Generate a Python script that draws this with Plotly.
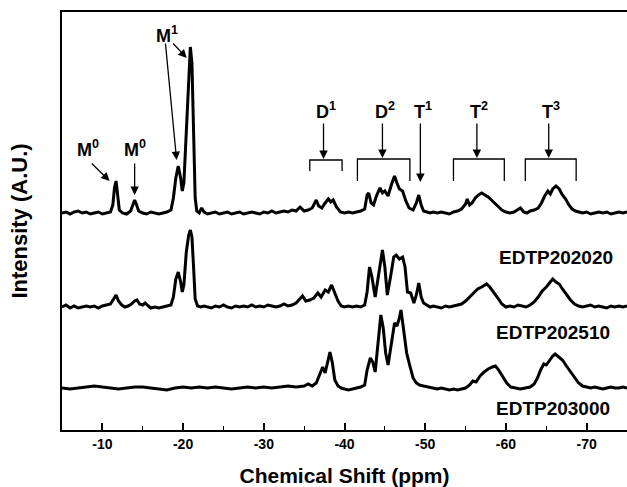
import plotly.graph_objects as go

# ---------------- data (ppm, intensity in arbitrary units above baseline) ----------------
ppm_top = [-5.0,-5.5,-6.0,-6.5,-7.0,-7.5,-8.0,-8.5,-9.0,-9.5,-10.0,-10.5,-11.0,-11.3,-11.5,-11.7,-11.9,-12.1,-12.5,-13.0,-13.5,-13.8,-14.0,-14.2,-14.5,-15.0,-15.5,-16.0,-16.5,-17.0,-17.5,-18.0,-18.5,-18.8,-19.1,-19.4,-19.7,-19.9,-20.1,-20.4,-20.7,-20.9,-21.1,-21.3,-21.5,-21.7,-22.0,-22.3,-22.6,-23.0,-23.5,-24.0,-24.5,-25.0,-25.5,-26.0,-26.5,-27.0,-27.5,-28.0,-28.5,-29.0,-29.5,-30.0,-30.5,-31.0,-31.5,-32.0,-32.5,-33.0,-33.5,-34.0,-34.5,-35.0,-35.5,-36.0,-36.5,-36.8,-37.2,-37.6,-38.0,-38.3,-38.6,-39.0,-39.5,-40.0,-40.5,-41.0,-41.5,-42.0,-42.5,-42.8,-43.0,-43.3,-43.6,-44.0,-44.4,-44.7,-45.0,-45.4,-45.8,-46.2,-46.5,-46.8,-47.2,-47.6,-48.0,-48.5,-48.9,-49.2,-49.5,-49.8,-50.2,-50.6,-51.0,-51.5,-52.0,-52.5,-53.0,-53.5,-54.0,-54.5,-55.0,-55.2,-55.5,-55.8,-56.2,-56.6,-57.0,-57.4,-57.8,-58.2,-58.6,-59.0,-59.5,-60.0,-60.5,-61.0,-61.5,-61.8,-62.2,-62.6,-63.0,-63.5,-64.0,-64.4,-64.8,-65.2,-65.5,-65.8,-66.2,-66.6,-67.0,-67.4,-67.8,-68.2,-68.6,-69.0,-69.5,-70.0,-70.5,-71.0,-71.5,-72.0,-72.5,-73.0,-73.5,-74.0,-74.5,-75.0]
int_top = [0,1,-1,1,2,0,1,-1,0,1,-1,0,1,8,25,32,20,3,0,-1,2,9,13,9,2,0,-1,1,0,-1,0,1,3,15,35,47,35,22,30,80,140,166,150,80,15,2,0,5,1,-1,0,1,-1,0,1,-1,0,1,-1,0,1,0,-1,1,0,2,0,1,2,1,3,2,6,2,3,5,13,7,5,10,14,11,13,6,1,0,1,0,1,2,4,18,20,10,8,18,25,20,22,17,28,37,30,24,22,12,5,3,10,18,8,2,1,0,1,0,1,0,-1,1,2,4,9,14,8,10,15,18,20,18,16,13,10,6,3,1,0,1,3,5,1,0,2,3,5,10,17,22,19,24,27,24,18,14,8,4,2,1,0,1,-1,0,1,0,1,-1,0,1,0,1]

ppm_mid = [-5.0,-5.5,-6.0,-6.5,-7.0,-7.5,-8.0,-8.5,-9.0,-9.5,-10.0,-10.5,-11.0,-11.4,-11.7,-12.0,-12.4,-12.8,-13.2,-13.6,-14.0,-14.3,-14.6,-15.0,-15.3,-15.7,-16.0,-16.5,-17.0,-17.5,-18.0,-18.5,-18.8,-19.1,-19.4,-19.7,-19.9,-20.1,-20.4,-20.7,-20.9,-21.1,-21.3,-21.5,-21.8,-22.2,-22.6,-23.0,-23.5,-24.0,-24.5,-25.0,-25.5,-26.0,-26.5,-27.0,-27.5,-28.0,-28.5,-29.0,-29.5,-30.0,-30.5,-31.0,-31.5,-32.0,-32.5,-33.0,-33.5,-34.0,-34.5,-34.8,-35.2,-35.7,-36.2,-36.7,-37.1,-37.6,-38.0,-38.4,-38.8,-39.2,-39.6,-40.0,-40.5,-41.0,-41.5,-42.0,-42.5,-42.8,-43.1,-43.4,-43.8,-44.2,-44.7,-45.0,-45.3,-45.7,-46.1,-46.4,-46.8,-47.2,-47.5,-47.8,-48.2,-48.6,-48.9,-49.2,-49.5,-49.8,-50.2,-50.6,-51.0,-51.5,-52.0,-52.5,-53.0,-53.5,-54.0,-54.5,-55.0,-55.5,-56.0,-56.5,-57.0,-57.6,-58.0,-58.5,-59.0,-59.5,-60.0,-60.5,-61.0,-61.5,-62.0,-62.5,-63.0,-63.5,-64.0,-64.5,-65.0,-65.4,-65.8,-66.2,-66.6,-67.0,-67.5,-68.0,-68.5,-69.0,-69.5,-70.0,-70.5,-71.0,-71.5,-72.0,-72.5,-73.0,-73.5,-74.0,-74.5,-75.0]
int_mid = [0,2,-1,1,-1,0,1,0,1,-1,1,2,3,8,12,6,2,0,1,3,6,7,3,2,4,1,-1,0,-1,0,1,2,10,28,35,25,15,22,55,72,77,70,40,8,1,0,1,0,-1,1,0,2,0,-1,1,0,1,0,2,0,1,0,2,1,0,1,3,1,2,4,8,11,6,7,9,14,10,17,15,22,14,6,1,0,1,0,1,0,2,15,40,30,10,30,57,40,12,30,50,52,48,50,40,15,14,4,12,24,10,4,2,0,1,0,-1,1,0,1,2,3,6,10,15,18,20,23,20,15,9,3,0,1,0,2,1,0,2,5,10,16,20,24,28,25,23,18,12,7,3,1,0,1,2,0,1,0,-1,1,0,1,0,1]

ppm_bot = [-5.0,-6.0,-7.0,-8.0,-9.0,-10.0,-11.0,-12.0,-13.0,-14.0,-15.0,-16.0,-17.0,-18.0,-19.0,-20.0,-21.0,-22.0,-23.0,-24.0,-25.0,-26.0,-27.0,-28.0,-29.0,-30.0,-31.0,-32.0,-33.0,-34.0,-35.0,-35.5,-36.0,-36.5,-37.0,-37.3,-37.6,-37.9,-38.2,-38.5,-38.8,-39.2,-39.6,-40.0,-40.5,-41.0,-41.5,-42.0,-42.5,-42.8,-43.2,-43.5,-43.8,-44.1,-44.5,-44.8,-45.1,-45.4,-45.8,-46.2,-46.5,-46.8,-47.0,-47.3,-47.7,-48.1,-48.5,-48.9,-49.3,-49.8,-50.3,-51.0,-51.5,-52.0,-52.5,-53.0,-53.5,-54.0,-54.5,-55.0,-55.5,-55.9,-56.3,-56.8,-57.3,-57.8,-58.3,-58.7,-59.1,-59.6,-60.1,-60.6,-61.2,-61.8,-62.4,-63.0,-63.5,-63.9,-64.3,-64.7,-65.0,-65.4,-65.8,-66.1,-66.5,-67.0,-67.5,-68.0,-68.5,-69.0,-69.5,-70.0,-70.5,-71.0,-71.5,-72.0,-72.5,-73.0,-73.5,-74.0,-74.5,-75.0]
int_bot = [0,-1,0,1,2,1,0,-1,0,1,1,0,-1,-2,0,1,0,1,0,1,0,-1,0,1,0,1,0,1,2,1,2,4,2,5,15,21,15,25,36,25,8,2,0,-1,-2,-1,0,1,3,18,30,26,16,40,73,60,35,23,45,65,62,70,78,60,35,22,10,5,3,2,1,0,-1,0,-1,-2,-1,-2,-1,0,3,7,6,12,16,19,21,22,18,11,5,1,0,-1,0,1,4,10,18,24,23,28,32,34,31,28,22,16,10,5,2,1,0,1,0,-1,0,1,0,0,1,0]

sample_names = ["EDTP202020", "EDTP202510", "EDTP203000"]
baselines = [217, 123, 42]

tick_vals = [-10, -20, -30, -40, -50, -60, -70]
tick_text = ["-10", "-20", "-30", "-40", "-50", "-60", "-70"]

# peak-group brackets: label, left ppm, right ppm, arrow ppm
bracket_labels = ["D<sup>1</sup>", "D<sup>2</sup>", "T<sup>2</sup>", "T<sup>3</sup>"]
bracket_left = [-35.7, -41.6, -53.5, -62.4]
bracket_right = [-39.7, -48.1, -59.8, -68.7]
bracket_arrow = [-37.4, -44.7, -56.4, -65.3]

FONT = "Arial, Liberation Sans, sans-serif"

fig = go.Figure()
for xs, ys, base in zip([ppm_top, ppm_mid, ppm_bot], [int_top, int_mid, int_bot], baselines):
    fig.add_trace(go.Scatter(x=xs, y=[v + base for v in ys], mode="lines",
                             line=dict(color="black", width=3), showlegend=False,
                             hoverinfo="skip"))

ann = []
# sample labels (placed below each spectrum)
label_y = [173, 98, 22]
label_x = [-66.2, -65.8, -65.8]
for name, xx, yy in zip(sample_names, label_x, label_y):
    ann.append(dict(x=xx, y=yy, text="<b>%s</b>" % name, showarrow=False,
                    font=dict(size=19, family=FONT, color="black")))

lab_font = dict(size=18, family=FONT, color="black")

def arrow(x0, y0, x1, y1):
    ann.append(dict(x=x1, y=y1, ax=x0, ay=y0, xref="x", yref="y", axref="x", ayref="y",
                    text="", showarrow=True, arrowhead=2, arrowsize=1.3, arrowwidth=1.3,
                    arrowcolor="black", standoff=0, startstandoff=0))

def label(x, y, t):
    ann.append(dict(x=x, y=y, text="<b>%s</b>" % t, showarrow=False, font=lab_font))

# M0 (left)
label(-8.2, 282, "M<sup>0</sup>")
arrow(-8.5, 268, -10.9, 249)
# M0 (second)
label(-14.0, 282, "M<sup>0</sup>")
arrow(-14.0, 268, -14.0, 235)
# M1
label(-18.0, 396, "M<sup>1</sup>")
arrow(-17.8, 388, -19.2, 270)
arrow(-18.6, 388, -20.45, 372)
# T1
label(-49.7, 320, "T<sup>1</sup>")
arrow(-49.4, 308, -49.4, 248)

shapes = []
for lab, xl, xr, xa in zip(bracket_labels, bracket_left, bracket_right, bracket_arrow):
    if lab.startswith("D<sup>1"):
        ytop, ybot = 270, 259
    else:
        ytop, ybot = 271, 249
    label(xa - 0.3, 320, lab)
    arrow(xa, 308, xa, ytop + 1)
    shapes.append(dict(type="path", xref="x", yref="y",
                       path="M %f,%f L %f,%f L %f,%f L %f,%f" % (xl, ybot, xl, ytop, xr, ytop, xr, ybot),
                       line=dict(color="black", width=1.3)))

fig.update_layout(
    width=627, height=487,
    margin=dict(l=62, r=0, t=12, b=57),
    paper_bgcolor="white", plot_bgcolor="white",
    annotations=ann, shapes=shapes,
    font=dict(family=FONT, color="black"),
    hovermode=False,
    xaxis=dict(range=[-5, -75], tickvals=tick_vals, ticktext=tick_text,
               ticks="inside", ticklen=7, tickwidth=1.5, tickcolor="black",
               minor=dict(ticks="inside", ticklen=4, tickwidth=1.3, dtick=5, tick0=0, tickcolor="black"),
               showline=True, linewidth=2, linecolor="black", mirror=True,
               showgrid=False, zeroline=False, automargin=False,
               tickfont=dict(size=14, family=FONT, color="black", weight="bold"),
               title=dict(text="<b>Chemical Shift (ppm)</b>", font=dict(size=21, family=FONT), standoff=19)),
    yaxis=dict(range=[0, 418], showticklabels=False, ticks="", showline=True, linewidth=2,
               linecolor="black", showgrid=False, zeroline=False, automargin=False,
               title=dict(text="<b>Intensity (A.U.)</b>", font=dict(size=22, family=FONT), standoff=26)),
)

# remove the browser's default 8px page margin so the figure fills the window
fig.write_html("out.html", config={"displayModeBar": False},
               post_script="document.body.style.margin='0';")
